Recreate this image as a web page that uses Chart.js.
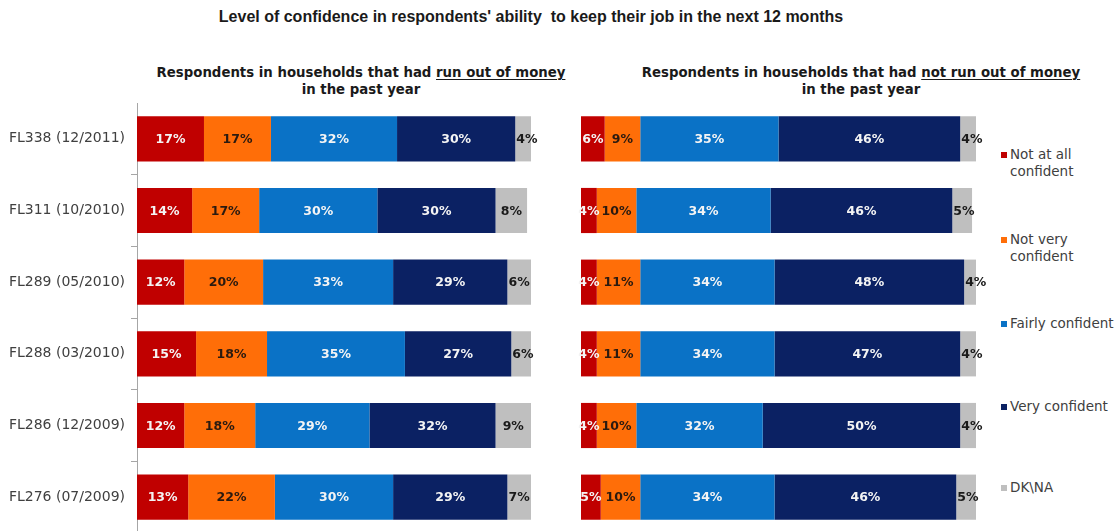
<!DOCTYPE html>
<html>
<head>
<meta charset="utf-8">
<script src="https://cdn.jsdelivr.net/npm/chart.js@4.4.1/dist/chart.umd.min.js"></script>
<style>
  html, body { margin: 0; padding: 0; background: #fff; overflow: hidden; }
  #page { position: relative; width: 1117px; height: 531px; }
  .title { position: absolute; left: 0; width: 1062px; top: 8px; text-align: center;
           font: bold 16px "Liberation Sans", Arial, sans-serif; color: #1a1a1a; }
  .sub { position: absolute; top: 64px; width: 560px; text-align: center;
         font: bold 13.3px "DejaVu Sans", Verdana, sans-serif; color: #1a1a1a; line-height: 17px; }
  .sub u { text-underline-offset: 2px; }
  .legend-item { position: absolute; left: 1001px; font: 13.5px "DejaVu Sans", Verdana, sans-serif;
                 color: #404040; line-height: 17px; }
  .legend-item i { position: absolute; left: 0; top: 6px; width: 6px; height: 6px; }
  .legend-item span { display: block; margin-left: 9px; }
  canvas { position: absolute; }
</style>
</head>
<body>
<div id="page">
  <div class="title">Level of confidence in respondents' ability&nbsp; to keep their job in the next 12 months</div>
  <div class="sub" style="left:81px">Respondents in households that had <u>run out of money</u><br>in the past year</div>
  <div class="sub" style="left:581px">Respondents in households that had <u>not run out of money</u><br>in the past year</div>
  <div id="legend"></div>
  <canvas id="leftChart" style="left:0;top:103px"></canvas>
  <canvas id="rightChart" style="left:560px;top:103px"></canvas>
</div>
<script>
const categories = ['FL338 (12/2011)', 'FL311 (10/2010)', 'FL289 (05/2010)', 'FL288 (03/2010)', 'FL286 (12/2009)', 'FL276 (07/2009)'];
const seriesNames = ['Not at all confident', 'Not very confident', 'Fairly confident', 'Very confident', 'DK\\NA'];
const legendLines = [['Not at all', 'confident'], ['Not very', 'confident'], ['Fairly confident'], ['Very confident'], ['DK\\NA']];

// households that had run out of money
const notAtAllRan = [17, 14, 12, 15, 12, 13];
const notVeryRan = [17, 17, 20, 18, 18, 22];
const fairlyRan = [32, 30, 33, 35, 29, 30];
const veryRan = [30, 30, 29, 27, 32, 29];
const dkRan = [4, 8, 6, 6, 9, 7];

// households that had not run out of money
const notAtAllNot = [6, 4, 4, 4, 4, 5];
const notVeryNot = [9, 10, 11, 11, 10, 10];
const fairlyNot = [35, 34, 34, 34, 32, 34];
const veryNot = [46, 46, 48, 47, 50, 46];
const dkNot = [4, 5, 4, 4, 4, 5];

const colors = ['#c00000', '#ff6e08', '#0a72c6', '#0b2163', '#bfbfbf'];
const labelColors = ['#f4f4f4', '#2a1a10', '#f4f4f4', '#f4f4f4', '#1a1a1a'];

// legend
const legendTops = [146, 231, 315, 398, 479];
const legendEl = document.getElementById('legend');
legendLines.forEach((lines, i) => {
    const d = document.createElement('div');
    d.className = 'legend-item';
    d.style.top = legendTops[i] + 'px';
    d.innerHTML = '<i style="background:' + colors[i] + '"></i><span>' + lines.join('<br>') + '</span>';
    legendEl.appendChild(d);
});

const segmentLabels = {
    id: 'segmentLabels',
    afterDatasetsDraw(chart) {
        const ctx = chart.ctx;
        ctx.save();
        ctx.font = 'bold 12.5px "DejaVu Sans", Verdana, sans-serif';
        ctx.textAlign = 'center';
        ctx.textBaseline = 'middle';
        const last = chart.data.datasets.length - 1;
        chart.data.datasets.forEach((ds, i) => {
            chart.getDatasetMeta(i).data.forEach((bar, j) => {
                const txt = ds.data[j] + '%';
                const left = Math.min(bar.x, bar.base);
                const right = Math.min(Math.max(bar.x, bar.base), chart.chartArea.right);
                const w = ctx.measureText(txt).width;
                let x = (left + right) / 2;
                if (i === last && w > right - left) x += (w - (right - left)) / 2 + 1;
                ctx.fillStyle = labelColors[i];
                ctx.fillText(txt, x, bar.y + 1);
            });
        });
        ctx.restore();
    }
};

function buildDatasets(series) {
    return series.map((data, i) => ({
        label: seriesNames[i],
        data: data,
        backgroundColor: colors[i],
        borderWidth: 0,
        barPercentage: 0.63,
        categoryPercentage: 1
    }));
}

function makeChart(id, width, series, showAxis, padding) {
    const canvas = document.getElementById(id);
    canvas.width = width;
    canvas.height = 430;
    canvas.style.width = width + 'px';
    canvas.style.height = '430px';
    return new Chart(canvas, {
        type: 'bar',
        data: { labels: categories, datasets: buildDatasets(series) },
        options: {
            indexAxis: 'y',
            responsive: false,
            animation: false,
            layout: { padding: padding },
            plugins: { legend: { display: false }, tooltip: { enabled: false } },
            scales: {
                x: { stacked: true, min: 0, max: 100, display: false },
                y: {
                    stacked: true,
                    display: showAxis,
                    grid: { drawOnChartArea: false, drawTicks: true, tickLength: 6, color: '#a6a6a6', offset: true },
                    border: { display: true, color: '#a6a6a6' },
                    ticks: { color: '#404040', padding: 6, font: { family: '"DejaVu Sans", Verdana, sans-serif', size: 14 } },
                    afterFit(scale) {
                        if (!showAxis) return;
                        scale.width = 137;
                        scale.paddingTop = 0;
                        scale.paddingBottom = 0;
                    }
                }
            }
        },
        plugins: [segmentLabels]
    });
}

makeChart('leftChart', 545, [notAtAllRan, notVeryRan, fairlyRan, veryRan, dkRan], true, { left: 0, right: 14, top: 0, bottom: 0 });
makeChart('rightChart', 445, [notAtAllNot, notVeryNot, fairlyNot, veryNot, dkNot], false, { left: 21, right: 29, top: 0, bottom: 0 });
</script>
</body>
</html>
